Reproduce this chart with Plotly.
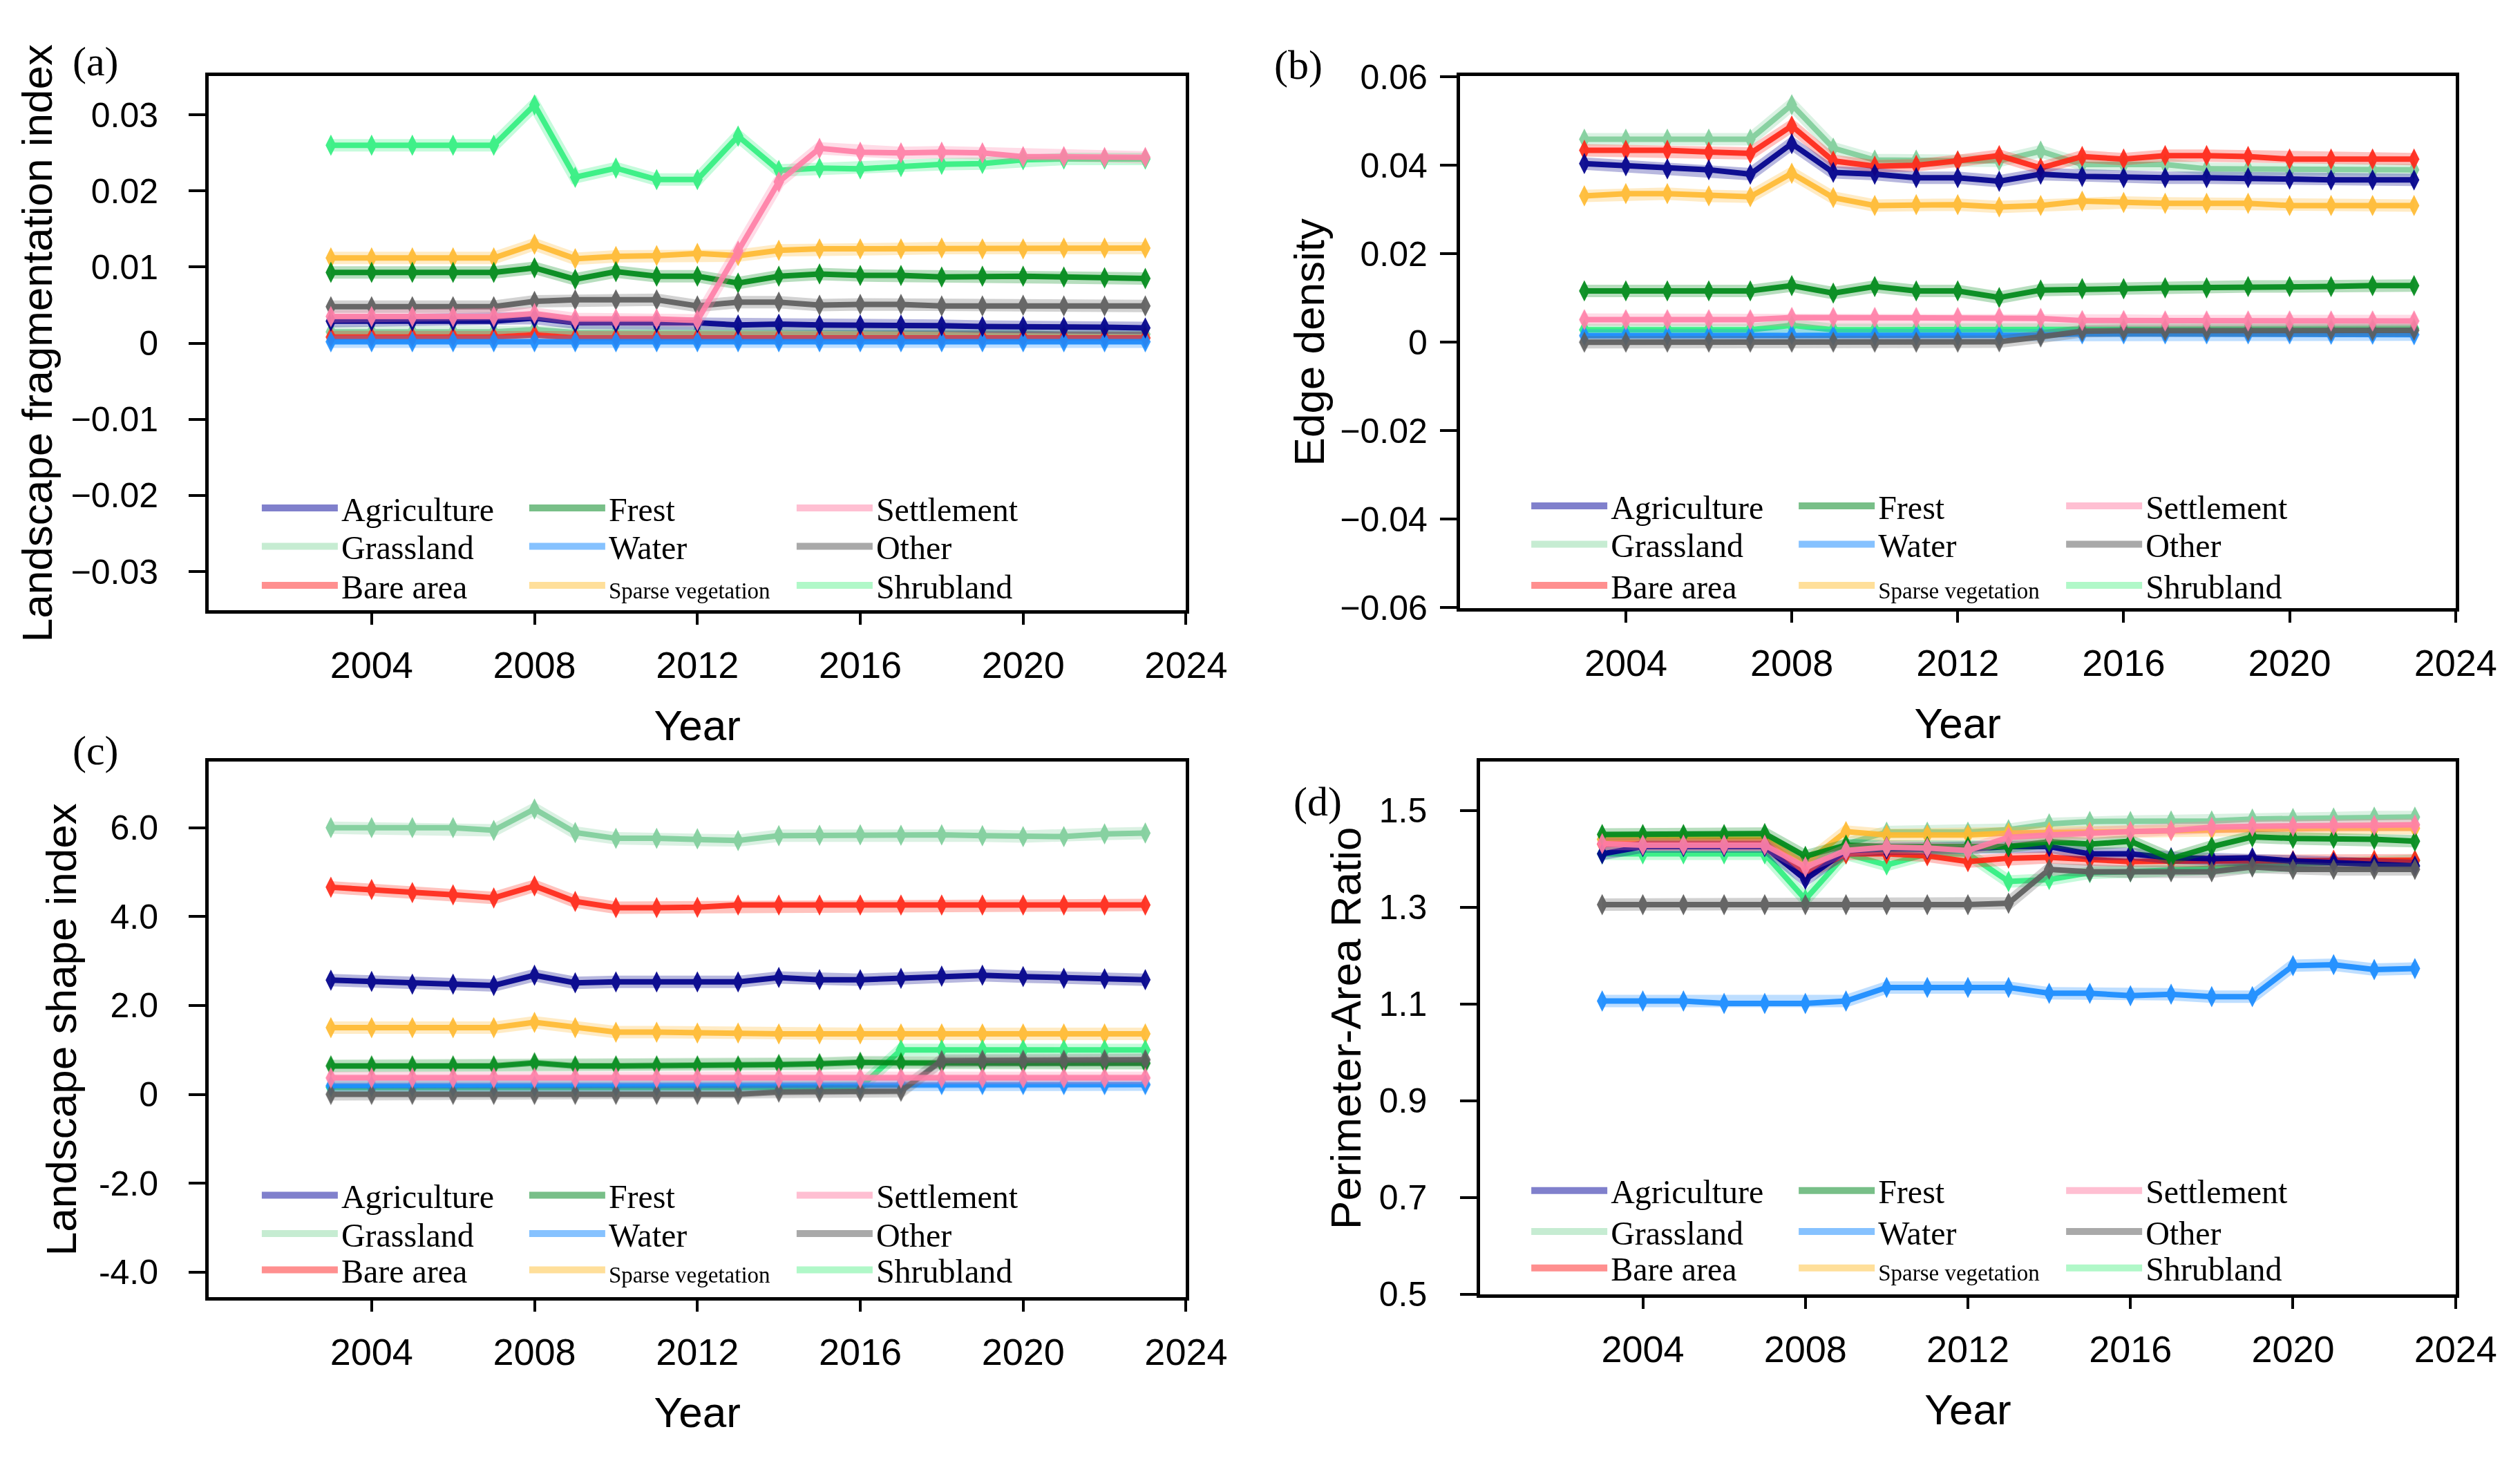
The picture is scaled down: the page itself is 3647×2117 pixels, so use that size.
import plotly.graph_objects as go

W, H = 3647, 2117

years = [2003, 2004, 2005, 2006, 2007, 2008, 2009, 2010, 2011, 2012, 2013,
         2014, 2015, 2016, 2017, 2018, 2019, 2020, 2021, 2022, 2023]

series_names = ["Agriculture", "Frest", "Settlement", "Grassland", "Water",
                "Other", "Bare area", "Sparse vegetation", "Shrubland"]

# ---- (a) Landscape fragmentation index ----
agri_a = [0.0029, 0.0029, 0.0029, 0.0029, 0.0029, 0.0033, 0.0027, 0.0027, 0.0027, 0.0027, 0.0024,
          0.0025, 0.0024, 0.0024, 0.0024, 0.0023, 0.0022, 0.0022, 0.0021, 0.0021, 0.0020]
frest_a = [0.0093, 0.0093, 0.0093, 0.0093, 0.0093, 0.0099, 0.0084, 0.0094, 0.0088, 0.0088, 0.0079,
           0.0088, 0.0091, 0.0089, 0.0089, 0.0087, 0.0088, 0.0088, 0.0087, 0.0086, 0.0085]
settle_a = [0.0035, 0.0035, 0.0035, 0.0035, 0.0035, 0.0039, 0.0032, 0.0032, 0.0032, 0.0030, 0.0121,
            0.0212, 0.0256, 0.0251, 0.0250, 0.0251, 0.0250, 0.0245, 0.0245, 0.0244, 0.0244]
grass_a = [0.0015, 0.0015, 0.0015, 0.0015, 0.0015, 0.0018, 0.0014, 0.0014, 0.0014, 0.0014, 0.0014,
           0.0014, 0.0013, 0.0013, 0.0013, 0.0013, 0.0013, 0.0013, 0.0012, 0.0012, 0.0012]
water_a = [0.0002, 0.0002, 0.0002, 0.0002, 0.0002, 0.0002, 0.0002, 0.0002, 0.0002, 0.0002, 0.0002,
           0.0002, 0.0002, 0.0002, 0.0002, 0.0002, 0.0002, 0.0002, 0.0002, 0.0002, 0.0002]
other_a = [0.0048, 0.0048, 0.0048, 0.0048, 0.0048, 0.0055, 0.0057, 0.0057, 0.0057, 0.0049, 0.0054,
           0.0054, 0.0050, 0.0051, 0.0051, 0.0049, 0.0049, 0.0050, 0.0049, 0.0049, 0.0049]
bare_a = [0.0008, 0.0008, 0.0008, 0.0008, 0.0008, 0.0011, 0.0007, 0.0007, 0.0007, 0.0007, 0.0007,
          0.0007, 0.0007, 0.0007, 0.0007, 0.0007, 0.0007, 0.0007, 0.0007, 0.0007, 0.0007]
sparse_a = [0.0112, 0.0112, 0.0112, 0.0112, 0.0112, 0.0130, 0.0111, 0.0114, 0.0115, 0.0118, 0.0115,
            0.0122, 0.0124, 0.0124, 0.0124, 0.0125, 0.0124, 0.0124, 0.0125, 0.0125, 0.0125]
shrub_a = [0.0260, 0.0260, 0.0260, 0.0260, 0.0260, 0.0313, 0.0218, 0.0230, 0.0215, 0.0215, 0.0272,
           0.0227, 0.0230, 0.0229, 0.0232, 0.0235, 0.0236, 0.0241, 0.0242, 0.0242, 0.0242]

# ---- (b) Edge density ----
agri_b = [0.0404, 0.0399, 0.0392, 0.0390, 0.0380, 0.0449, 0.0384, 0.0380, 0.0372, 0.0372, 0.0364,
          0.0380, 0.0375, 0.0372, 0.0372, 0.0372, 0.0372, 0.0369, 0.0367, 0.0367, 0.0367]
frest_b = [0.0116, 0.0116, 0.0116, 0.0116, 0.0116, 0.0128, 0.0111, 0.0126, 0.0116, 0.0116, 0.0101,
           0.0118, 0.0121, 0.0121, 0.0123, 0.0123, 0.0126, 0.0126, 0.0126, 0.0128, 0.0128]
settle_b = [0.0051, 0.0051, 0.0051, 0.0051, 0.0051, 0.0056, 0.0056, 0.0056, 0.0056, 0.0056, 0.0056,
            0.0054, 0.0049, 0.0049, 0.0048, 0.0048, 0.0048, 0.0048, 0.0048, 0.0048, 0.0048]
grass_b = [0.0459, 0.0459, 0.0459, 0.0459, 0.0459, 0.0537, 0.0439, 0.0412, 0.0412, 0.0410, 0.0410,
           0.0432, 0.0402, 0.0402, 0.0402, 0.0392, 0.0391, 0.0390, 0.0390, 0.0390, 0.0390]
water_b = [0.0015, 0.0015, 0.0015, 0.0015, 0.0015, 0.0017, 0.0015, 0.0014, 0.0014, 0.0014, 0.0014,
           0.0016, 0.0019, 0.0019, 0.0019, 0.0019, 0.0019, 0.0019, 0.0018, 0.0018, 0.0017]
other_b = [0.0000, 0.0000, 0.0000, 0.0000, 0.0000, 0.0000, 0.0000, 0.0000, 0.0000, 0.0000, 0.0001,
           0.0012, 0.0025, 0.0026, 0.0026, 0.0026, 0.0026, 0.0026, 0.0026, 0.0026, 0.0027]
bare_b = [0.0434, 0.0434, 0.0434, 0.0430, 0.0427, 0.0489, 0.0410, 0.0398, 0.0400, 0.0410, 0.0422,
          0.0394, 0.0420, 0.0414, 0.0422, 0.0422, 0.0420, 0.0414, 0.0414, 0.0414, 0.0414]
sparse_b = [0.0331, 0.0336, 0.0336, 0.0331, 0.0329, 0.0382, 0.0327, 0.0309, 0.0311, 0.0311, 0.0306,
            0.0309, 0.0319, 0.0316, 0.0314, 0.0314, 0.0314, 0.0309, 0.0309, 0.0309, 0.0309]
shrub_b = [0.0028, 0.0028, 0.0028, 0.0028, 0.0028, 0.0038, 0.0028, 0.0028, 0.0028, 0.0028, 0.0028,
           0.0029, 0.0031, 0.0031, 0.0031, 0.0031, 0.0031, 0.0031, 0.0031, 0.0031, 0.0031]

# ---- (c) Landscape shape index ----
agri_c = [2.57, 2.54, 2.48, 2.48, 2.45, 2.68, 2.51, 2.53, 2.53, 2.53, 2.53,
          2.63, 2.58, 2.58, 2.61, 2.66, 2.68, 2.65, 2.61, 2.60, 2.58]
frest_c = [0.64, 0.64, 0.64, 0.64, 0.64, 0.71, 0.64, 0.64, 0.64, 0.64, 0.64,
           0.67, 0.69, 0.72, 0.71, 0.70, 0.70, 0.70, 0.70, 0.70, 0.70]
settle_c = [0.37, 0.37, 0.37, 0.37, 0.37, 0.37, 0.37, 0.37, 0.37, 0.37, 0.37,
            0.37, 0.37, 0.37, 0.37, 0.37, 0.37, 0.37, 0.37, 0.37, 0.37]
grass_c = [6.00, 6.00, 6.00, 6.00, 5.94, 6.42, 5.89, 5.76, 5.76, 5.75, 5.71,
           5.82, 5.83, 5.84, 5.83, 5.84, 5.82, 5.80, 5.80, 5.86, 5.88]
water_c = [0.19, 0.19, 0.19, 0.19, 0.19, 0.19, 0.19, 0.19, 0.19, 0.19, 0.19,
           0.19, 0.19, 0.19, 0.22, 0.22, 0.22, 0.22, 0.22, 0.22, 0.22]
other_c = [0.00, 0.00, 0.00, 0.00, 0.00, 0.00, 0.00, 0.00, 0.00, 0.00, 0.00,
           0.05, 0.05, 0.06, 0.07, 0.76, 0.77, 0.77, 0.77, 0.78, 0.78]
bare_c = [4.66, 4.61, 4.54, 4.49, 4.42, 4.69, 4.34, 4.20, 4.20, 4.21, 4.26,
          4.26, 4.26, 4.26, 4.26, 4.26, 4.26, 4.26, 4.26, 4.26, 4.26]
sparse_c = [1.50, 1.50, 1.50, 1.50, 1.50, 1.62, 1.50, 1.40, 1.40, 1.38, 1.38,
            1.36, 1.36, 1.36, 1.36, 1.36, 1.36, 1.36, 1.36, 1.36, 1.36]
shrub_c = [0.16, 0.16, 0.16, 0.16, 0.16, 0.16, 0.16, 0.16, 0.16, 0.16, 0.16,
           0.16, 0.16, 0.16, 1.00, 1.00, 1.00, 1.00, 1.00, 1.00, 1.00]

# ---- (d) Perimeter-Area Ratio ----
agri_d = [1.410, 1.425, 1.425, 1.425, 1.425, 1.357, 1.417, 1.420, 1.420, 1.420, 1.425,
          1.425, 1.410, 1.410, 1.402, 1.400, 1.402, 1.395, 1.392, 1.388, 1.385]
frest_d = [1.450, 1.450, 1.450, 1.450, 1.452, 1.405, 1.428, 1.425, 1.425, 1.425, 1.425,
           1.435, 1.430, 1.436, 1.400, 1.425, 1.445, 1.442, 1.442, 1.440, 1.436]
settle_d = [1.431, 1.428, 1.428, 1.428, 1.428, 1.383, 1.417, 1.424, 1.422, 1.417, 1.444,
            1.449, 1.453, 1.456, 1.458, 1.465, 1.467, 1.467, 1.469, 1.469, 1.470]
grass_d = [1.440, 1.440, 1.440, 1.440, 1.440, 1.390, 1.430, 1.455, 1.455, 1.455, 1.460,
           1.472, 1.477, 1.477, 1.478, 1.478, 1.482, 1.483, 1.484, 1.486, 1.486]
water_d = [1.106, 1.106, 1.106, 1.101, 1.101, 1.101, 1.106, 1.134, 1.134, 1.134, 1.134,
           1.122, 1.122, 1.117, 1.120, 1.115, 1.115, 1.179, 1.181, 1.171, 1.173]
other_d = [1.305, 1.305, 1.305, 1.305, 1.305, 1.305, 1.305, 1.305, 1.305, 1.305, 1.308,
           1.378, 1.373, 1.373, 1.373, 1.373, 1.383, 1.378, 1.378, 1.378, 1.378]
bare_d = [1.430, 1.430, 1.430, 1.430, 1.430, 1.368, 1.410, 1.410, 1.406, 1.394, 1.401,
          1.403, 1.398, 1.394, 1.395, 1.395, 1.396, 1.396, 1.397, 1.397, 1.397]
sparse_d = [1.440, 1.440, 1.440, 1.440, 1.440, 1.390, 1.456, 1.449, 1.449, 1.449, 1.453,
            1.455, 1.455, 1.456, 1.458, 1.460, 1.462, 1.462, 1.463, 1.463, 1.463]
shrub_d = [1.410, 1.410, 1.410, 1.410, 1.410, 1.316, 1.410, 1.387, 1.410, 1.410, 1.353,
           1.357, 1.371, 1.373, 1.376, 1.380, 1.385, 1.389, 1.392, 1.394, 1.396]

panel_data = [
    dict(zip(series_names, [agri_a, frest_a, settle_a, grass_a, water_a, other_a, bare_a, sparse_a, shrub_a])),
    dict(zip(series_names, [agri_b, frest_b, settle_b, grass_b, water_b, other_b, bare_b, sparse_b, shrub_b])),
    dict(zip(series_names, [agri_c, frest_c, settle_c, grass_c, water_c, other_c, bare_c, sparse_c, shrub_c])),
    dict(zip(series_names, [agri_d, frest_d, settle_d, grass_d, water_d, other_d, bare_d, sparse_d, shrub_d])),
]

y_titles = ["Landscape fragmentation index", "Edge density",
            "Landscape shape index", "Perimeter-Area Ratio"]
panel_letters = ["(a)", "(b)", "(c)", "(d)"]

ytick_vals = [
    [-0.03, -0.02, -0.01, 0, 0.01, 0.02, 0.03],
    [-0.06, -0.04, -0.02, 0, 0.02, 0.04, 0.06],
    [-4.0, -2.0, 0, 2.0, 4.0, 6.0],
    [0.5, 0.7, 0.9, 1.1, 1.3, 1.5],
]
ytick_text = [
    ["\u22120.03", "\u22120.02", "\u22120.01", "0", "0.01", "0.02", "0.03"],
    ["\u22120.06", "\u22120.04", "\u22120.02", "0", "0.02", "0.04", "0.06"],
    ["-4.0", "-2.0", "0", "2.0", "4.0", "6.0"],
    ["0.5", "0.7", "0.9", "1.1", "1.3", "1.5"],
]
y_ranges = [[-0.0351, 0.0351], [-0.0602, 0.0602], [-4.56, 7.48], [0.5, 1.6]]
x_range = [2000, 2024]
xtick_vals = [2004, 2008, 2012, 2016, 2020, 2024]

line_colors = {
    "Agriculture": "#00008b", "Frest": "#008a1a", "Settlement": "#ff80a8",
    "Grassland": "#80cf9c", "Water": "#1a8cff", "Other": "#5e5e5e",
    "Bare area": "#ff2a1a", "Sparse vegetation": "#ffbb33", "Shrubland": "#33ef80",
}
legend_colors = {
    "Agriculture": "#8080cc", "Frest": "#78bf88", "Settlement": "#ffbfd2",
    "Grassland": "#c6ecd2", "Water": "#86c2ff", "Other": "#a9a9a9",
    "Bare area": "#ff8f8f", "Sparse vegetation": "#ffdf9a", "Shrubland": "#b0f8c8",
}
draw_order = ["Grassland", "Sparse vegetation", "Shrubland", "Bare area", "Water",
              "Agriculture", "Frest", "Other", "Settlement"]
legend_rows = [["Agriculture", "Frest", "Settlement"],
               ["Grassland", "Water", "Other"],
               ["Bare area", "Sparse vegetation", "Shrubland"]]

# panel geometry in pixels (left, right, top, bottom)
boxes = [(299, 1737, 78, 872), (2140, 3605, 78, 869),
         (299, 1737, 1097, 1892), (2170, 3605, 1097, 1888)]
legend_x0 = [377, 2245, 377, 2245]
legend_row_y = [[720, 777, 835], [717, 774, 835], [1741, 1798, 1852], [1734, 1795, 1849]]
letter_pos = [(133, 56), (1902, 62), (133, 1080), (1931, 1156)]
ylabel_standoff = [34, 8, 34, 38]
ytitle_standoff = [8, 4, 14, 8]


def px(x):
    return x / W


def py(y):
    return 1 - y / H


SANS = "Liberation Sans"
SERIF = "Liberation Serif"

fig = go.Figure()
layout = dict(width=W, height=H, margin=dict(l=0, r=0, t=0, b=0), autosize=False,
              paper_bgcolor="white", plot_bgcolor="white", showlegend=True,
              font=dict(family=SANS, color="black"))
annotations = []
legend_idx = 0

for p in range(4):
    xa = "x" if p == 0 else f"x{p+1}"
    ya = "y" if p == 0 else f"y{p+1}"
    l, r, t, b = boxes[p]
    data = panel_data[p]
    for name in draw_order:
        col = line_colors[name]
        fig.add_trace(go.Scatter(
            x=years, y=data[name], xaxis=xa, yaxis=ya, mode="lines",
            line=dict(color=col, width=18), opacity=0.28, showlegend=False,
            hoverinfo="skip"))
        fig.add_trace(go.Scatter(
            x=years, y=data[name], xaxis=xa, yaxis=ya, mode="lines+markers",
            line=dict(color=col, width=8),
            marker=dict(color=col, size=22, symbol="diamond-tall"),
            opacity=0.92, showlegend=False, name=name))
    # legends: one horizontal legend per row
    for ri, row in enumerate(legend_rows):
        legend_idx += 1
        lname = "legend" if legend_idx == 1 else f"legend{legend_idx}"
        for name in row:
            label = name
            if name == "Sparse vegetation":
                label = "<span style='font-size:33px'>Sparse vegetation</span>"
            fig.add_trace(go.Scatter(
                x=[None], y=[None], xaxis=xa, yaxis=ya, mode="lines",
                line=dict(color=legend_colors[name], width=10),
                name=label, legend=lname, showlegend=True))
        layout[lname] = dict(
            x=px(legend_x0[p] - 5), y=py(legend_row_y[p][ri]), xanchor="left", yanchor="middle",
            orientation="h", bgcolor="rgba(0,0,0,0)", borderwidth=0,
            itemwidth=110, entrywidth=262, entrywidthmode="pixels",
            font=dict(family=SERIF, size=48, color="black"),
            itemclick=False, itemdoubleclick=False)

    axis_common = dict(showline=True, linecolor="black", linewidth=5, mirror=True,
                       showgrid=False, zeroline=False, ticks="outside",
                       tickcolor="black", tickwidth=4)
    layout["xaxis" if p == 0 else f"xaxis{p+1}"] = dict(
        axis_common, domain=[px(l), px(r)], anchor=ya, range=x_range,
        tickmode="array", tickvals=xtick_vals, ticklen=16, ticklabelstandoff=12,
        tickfont=dict(family=SANS, size=54, color="black"),
        title=dict(text="Year", font=dict(family=SANS, size=62, color="black"), standoff=38))
    layout["yaxis" if p == 0 else f"yaxis{p+1}"] = dict(
        axis_common, domain=[py(b), py(t)], anchor=xa, range=y_ranges[p],
        tickmode="array", tickvals=ytick_vals[p], ticktext=ytick_text[p], ticklen=24,
        ticklabelstandoff=ylabel_standoff[p],
        tickfont=dict(family=SANS, size=50, color="black"),
        title=dict(text=y_titles[p], font=dict(family=SANS, size=62, color="black"),
                   standoff=ytitle_standoff[p]))
    lx, ly = letter_pos[p]
    annotations.append(dict(text=panel_letters[p], x=px(lx), y=py(ly), xref="paper", yref="paper",
                            showarrow=False, xanchor="center", yanchor="middle",
                            font=dict(family=SERIF, size=60, color="black")))

layout["annotations"] = annotations
fig.update_layout(**layout)
fig.write_html("out.html")
